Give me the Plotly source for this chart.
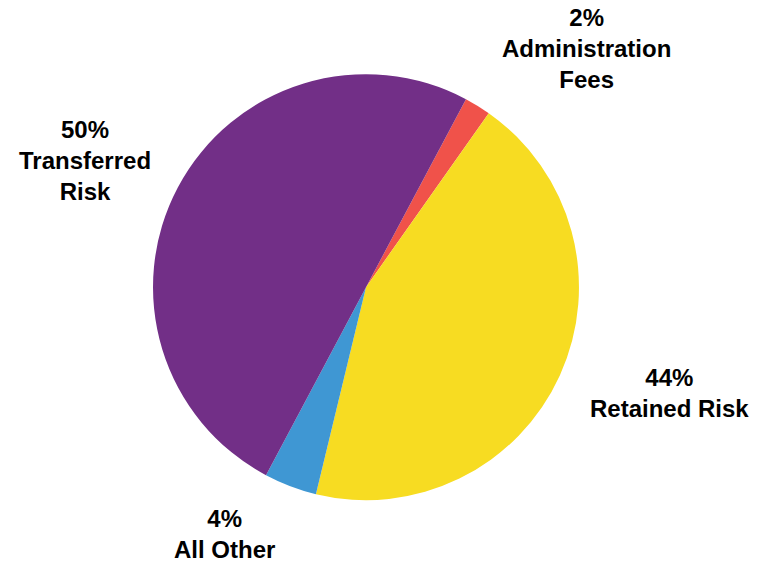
import plotly.graph_objects as go

# Cost breakdown shares (percent)
labels = ["Administration Fees", "Retained Risk", "All Other", "Transferred Risk"]
values = [2, 44, 4, 50]
colors = ["#F0524A", "#F7DC22", "#3F97D3", "#722F87"]

# Label text lines (name part) and their anchor positions in paper coordinates
label_lines = ["Administration<br>Fees", "Retained Risk", "All Other", "Transferred<br>Risk"]
label_x = [0.770, 0.879, 0.295, 0.1115]
label_y = [0.913, 0.3016, 0.0507, 0.715]

fig = go.Figure(
    go.Pie(
        labels=labels,
        values=values,
        marker=dict(colors=colors, line=dict(width=0)),
        sort=False,
        direction="clockwise",
        rotation=28,
        textinfo="none",
        hoverinfo="skip",
        domain=dict(x=[0.2008, 0.7598], y=[0.110, 0.868]),
    )
)

for v, txt, x, y in zip(values, label_lines, label_x, label_y):
    fig.add_annotation(
        x=x, y=y, xref="paper", yref="paper",
        text=f"<b>{v}%<br>{txt}</b>",
        showarrow=False,
        xanchor="center", yanchor="middle",
        align="center",
        font=dict(family="Arial", size=24, color="black"),
    )

fig.update_layout(
    width=762, height=562,
    margin=dict(l=0, r=0, t=0, b=0),
    paper_bgcolor="white",
    plot_bgcolor="white",
    showlegend=False,
)

fig.write_html("out.html")
